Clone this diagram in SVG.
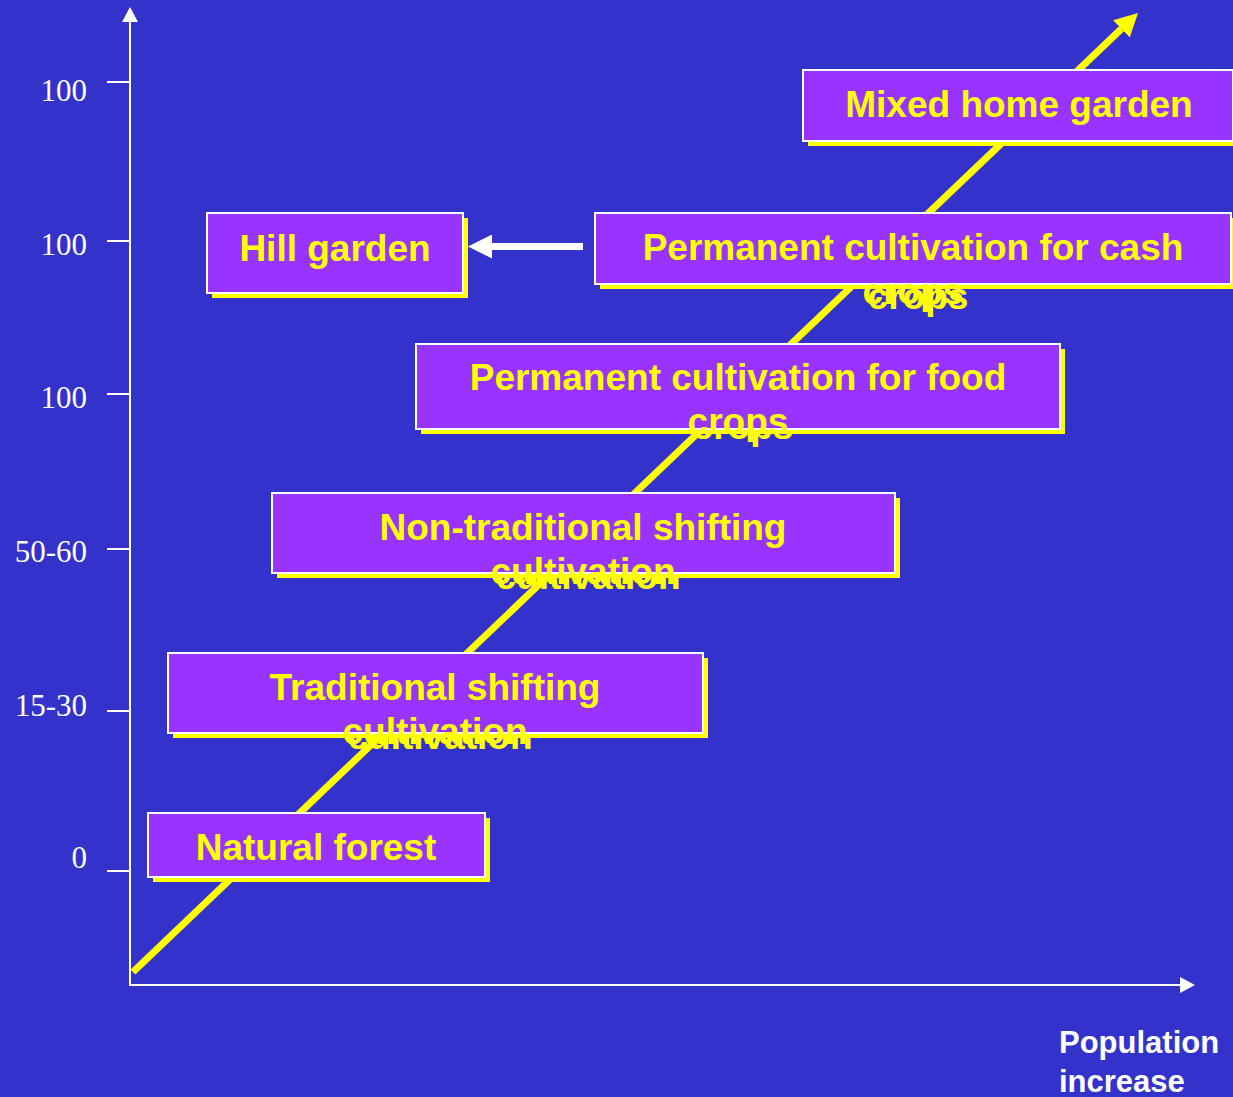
<svg xmlns="http://www.w3.org/2000/svg" width="1233" height="1097" viewBox="0 0 1233 1097">
<defs>
<style>
.box{fill:#9933FF;stroke:#FFFFFF;stroke-width:2}
.sh{fill:#FFFF00}
.t{font-family:"Liberation Sans",Arial,sans-serif;font-weight:bold;font-size:37px;fill:#FFFF00;text-anchor:middle}
.ax{stroke:#FFFFFF;stroke-width:2;fill:none}
.lbl{font-family:"Liberation Serif","Times New Roman",serif;font-size:31px;fill:#FFFFFF;text-anchor:end}
.pop{font-family:"Liberation Sans",Arial,sans-serif;font-weight:bold;font-size:31px;fill:#FFFFFF}
</style>
<marker id="axArrow" markerUnits="userSpaceOnUse" viewBox="0 -8 15 16" refX="0" refY="0" markerWidth="15" markerHeight="16" orient="auto">
<path d="M0,-8 L15,0 L0,8 z" fill="#FFFFFF"/>
</marker>
<marker id="yArrow" markerUnits="userSpaceOnUse" viewBox="0 -12 23 24" refX="0" refY="0" markerWidth="23" markerHeight="24" orient="auto">
<path d="M0,-12 L23,0 L0,12 z" fill="#FFFF00"/>
</marker>
<marker id="wArrow" markerUnits="userSpaceOnUse" viewBox="0 -12 24 24" refX="0" refY="0" markerWidth="24" markerHeight="24" orient="auto">
<path d="M0,-12 L24,0 L0,12 z" fill="#FFFFFF"/>
</marker>
</defs>
<rect width="1233" height="1097" fill="#3333CC"/>

<g id="axes">
<line class="ax" x1="130" y1="985" x2="130" y2="22" marker-end="url(#axArrow)"/>
<line class="ax" x1="129" y1="985" x2="1180" y2="985" marker-end="url(#axArrow)"/>
<line class="ax" x1="107" y1="82" x2="130" y2="82"/>
<line class="ax" x1="107" y1="241" x2="130" y2="241"/>
<line class="ax" x1="107" y1="394" x2="130" y2="394"/>
<line class="ax" x1="107" y1="549" x2="130" y2="549"/>
<line class="ax" x1="107" y1="711" x2="130" y2="711"/>
<line class="ax" x1="107" y1="871" x2="130" y2="871"/>
<text class="lbl" x="87" y="101">100</text>
<text class="lbl" x="87" y="255">100</text>
<text class="lbl" x="87" y="408">100</text>
<text class="lbl" x="87" y="562">50-60</text>
<text class="lbl" x="87" y="716">15-30</text>
<text class="lbl" x="87" y="868">0</text>
<text class="pop" x="1059" y="1053">Population</text>
<text class="pop" x="1059" y="1092">increase</text>
</g>

<g id="connectors">
<line x1="133" y1="972" x2="1121.4" y2="28.9" stroke="#FFFF00" stroke-width="7" marker-end="url(#yArrow)"/>
<line x1="583" y1="246.5" x2="492" y2="246.5" stroke="#FFFFFF" stroke-width="7" marker-end="url(#wArrow)"/>
</g>

<g id="node-mixed-home-garden">
<rect class="sh" x="808" y="75" width="430" height="71"/>
<rect class="box" x="803" y="70" width="430" height="71"/>
<text class="t" x="1019" y="117">Mixed home garden</text>
</g>

<g id="node-hill-garden">
<rect class="sh" x="212" y="218" width="256" height="80"/>
<rect class="box" x="207" y="213" width="256" height="80"/>
<text class="t" x="335" y="261">Hill garden</text>
</g>

<g id="node-cash-crops">
<rect class="sh" x="600" y="218" width="636" height="71"/>
<text class="t" x="918" y="309">crops</text>
<rect class="box" x="595" y="213" width="636" height="71"/>
<text class="t" x="913" y="260">Permanent cultivation for cash</text>
<text class="t" x="913" y="304">crops</text>
</g>

<g id="node-food-crops">
<rect class="sh" x="421" y="349" width="644" height="85"/>
<text class="t" x="743" y="439">crops</text>
<rect class="box" x="416" y="344" width="644" height="85"/>
<text class="t" x="738" y="390">Permanent cultivation for food</text>
<text class="t" x="738" y="434">crops</text>
</g>

<g id="node-non-traditional">
<rect class="sh" x="277" y="498" width="623" height="80"/>
<text class="t" x="588" y="589">cultivation</text>
<rect class="box" x="272" y="493" width="623" height="80"/>
<text class="t" x="583" y="540">Non-traditional shifting</text>
<text class="t" x="583" y="584">cultivation</text>
</g>

<g id="node-traditional">
<rect class="sh" x="173" y="658" width="535" height="80"/>
<text class="t" x="440" y="749">cultivation</text>
<rect class="box" x="168" y="653" width="535" height="80"/>
<text class="t" x="435" y="700">Traditional shifting</text>
<text class="t" x="435" y="744">cultivation</text>
</g>

<g id="node-natural-forest">
<rect class="sh" x="153" y="818" width="337" height="64"/>
<rect class="box" x="148" y="813" width="337" height="64"/>
<text class="t" x="316" y="860">Natural forest</text>
</g>
</svg>
